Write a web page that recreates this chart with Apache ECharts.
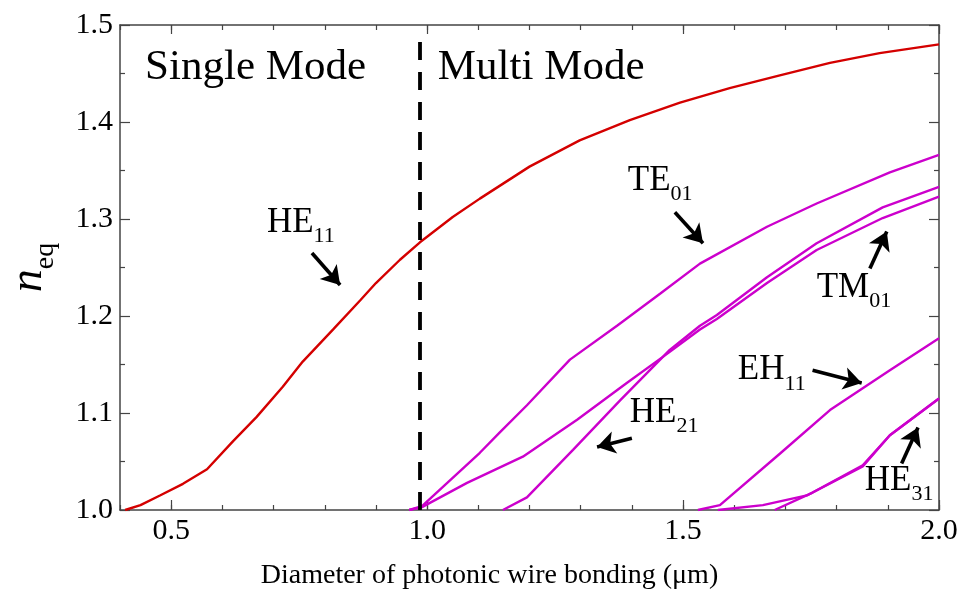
<!DOCTYPE html>
<html><head><meta charset="utf-8">
<script src="https://cdn.jsdelivr.net/npm/echarts@6/dist/echarts.min.js"></script>
<style>html,body{margin:0;padding:0;background:#fff}#c{width:963px;height:599px}</style>
</head><body><div id="c"></div>
<script>
// ---- data ----
const xTickLabels = [0.5, 1.0, 1.5, 2.0];
const yTickLabels = [1.0, 1.1, 1.2, 1.3, 1.4, 1.5];
const he11 = [[0.41,1.0],[0.44,1.005],[0.478,1.015],[0.523,1.027],[0.57,1.042],[0.621,1.071],[0.667,1.096],[0.718,1.127],[0.757,1.153],[0.816,1.186],[0.869,1.216],[0.90,1.234],[0.947,1.258],[0.986,1.276],[1.05,1.302],[1.103,1.321],[1.20,1.354],[1.298,1.381],[1.396,1.402],[1.494,1.420],[1.591,1.435],[1.689,1.448],[1.787,1.461],[1.884,1.471],[2.0,1.480]];
const te01 = [[0.965,1.0],[0.99,1.004],[1.103,1.059],[1.142,1.080],[1.195,1.108],[1.279,1.155],[1.371,1.190],[1.455,1.223],[1.533,1.254],[1.664,1.292],[1.761,1.316],[1.904,1.348],[2.0,1.366]];
const tm01 = [[0.965,1.0],[0.99,1.003],[1.078,1.028],[1.187,1.055],[1.293,1.093],[1.39,1.131],[1.474,1.163],[1.533,1.186],[1.566,1.197],[1.664,1.234],[1.761,1.268],[1.89,1.301],[2.0,1.323]];
const he21 = [[1.148,1.0],[1.195,1.013],[1.285,1.062],[1.377,1.113],[1.474,1.165],[1.533,1.190],[1.566,1.201],[1.664,1.240],[1.761,1.275],[1.89,1.312],[2.0,1.333]];
const eh11 = [[1.529,1.0],[1.572,1.005],[1.689,1.058],[1.787,1.103],[1.904,1.144],[2.0,1.177]];
const he31 = [[1.568,1.0],[1.656,1.005],[1.742,1.015],[1.851,1.045],[1.904,1.077],[2.0,1.115]];
const he31b = [[1.679,1.0],[1.753,1.018],[1.851,1.046],[1.904,1.077],[2.0,1.115]];
const singleModeCut = 0.985;
// annotation labels: main, subscript, left x, caps-centre y
const modeLabels = [['HE','11',0.687,1.294],['TE','01',1.392,1.337],['TM','01',1.761,1.227],['EH','11',1.607,1.142],['HE','21',1.396,1.098],['HE','31',1.855,1.028]];
// arrows: from [x,y] to [x,y]
const modeArrows = [[[0.775,1.265],[0.83,1.232]],[[1.484,1.307],[1.539,1.275]],[[1.865,1.249],[1.898,1.287]],[[1.753,1.144],[1.849,1.131]],[[1.40,1.074],[1.332,1.065]],[[1.927,1.048],[1.959,1.085]]];
const regionTexts = [['Single Mode',0.449,1.458],['Multi Mode',1.021,1.458]];

// ---- chart ----
const FF = "'Liberation Serif', 'DejaVu Serif', serif";
const AX = '#444';
const chart = echarts.init(document.getElementById('c'), null, {renderer:'canvas'});
const gridRect = {left:120, right:24, top:25, bottom:89, containLabel:false, outerBoundsMode:'none'};
const RED = '#d40000', MAG = '#cc00cc';
function lineSeries(name, data, color){
  return {name, type:'line', data, xAxisIndex:0, yAxisIndex:0, showSymbol:false, symbol:'none',
    lineStyle:{color, width:2.4}, itemStyle:{color}, animation:false, silent:true, z:3};
}
const markData = [
  [{coord:[singleModeCut,1.0], symbol:'none', lineStyle:{color:'#000', width:3.8, type:[18,12]}},
   {coord:[singleModeCut,1.485], symbol:'none'}]
];
modeArrows.forEach(a=>{
  markData.push([{coord:a[0], symbol:'none', lineStyle:{color:'#000', width:3.6, type:'solid'}},
                 {coord:a[1], symbol:'arrow', symbolSize:[17,18]}]);
});
const he11Series = lineSeries('HE11', he11, RED);
he11Series.markLine = {silent:true, animation:false, symbol:['none','none'], label:{show:false}, emphasis:{disabled:true}, data:markData};

const option = {
  animation:false,
  backgroundColor:'#fff',
  grid:[Object.assign({}, gridRect), Object.assign({}, gridRect)],
  xAxis:[
    {gridIndex:0, type:'value', min:0.4, max:2.0, interval:0.1, position:'bottom',
     axisLine:{show:true, onZero:false, lineStyle:{color:AX, width:1.5}},
     axisTick:{show:true, inside:true, length:5, lineStyle:{color:AX, width:1.2}},
     axisLabel:{customValues:xTickLabels, formatter:v=>v.toFixed(1), fontFamily:FF, fontSize:30, color:'#000', margin:6},
     splitLine:{show:false},
     name:'Diameter of photonic wire bonding (\u03bcm)', nameLocation:'middle', nameGap:52,
     nameTextStyle:{fontFamily:FF, fontSize:28, color:'#000', padding:[0,80,0,0]}},
    {gridIndex:0, type:'value', min:0.4, max:2.0, interval:0.1, position:'top',
     axisLine:{show:true, onZero:false, lineStyle:{color:AX, width:1.5}},
     axisTick:{show:true, inside:true, length:5, lineStyle:{color:AX, width:1.2}},
     axisLabel:{show:false}, splitLine:{show:false}},
    {gridIndex:1, type:'value', min:0.4, max:2.0, interval:0.1, position:'bottom',
     axisLine:{show:false, onZero:false},
     axisTick:{show:true, inside:true, length:10, customValues:xTickLabels, lineStyle:{color:AX, width:1.2}},
     axisLabel:{show:false}, splitLine:{show:false}},
    {gridIndex:1, type:'value', min:0.4, max:2.0, interval:0.1, position:'top',
     axisLine:{show:false, onZero:false},
     axisTick:{show:true, inside:true, length:9, customValues:xTickLabels, lineStyle:{color:AX, width:1.2}},
     axisLabel:{show:false}, splitLine:{show:false}}
  ],
  yAxis:[
    {gridIndex:0, type:'value', min:1.0, max:1.5, interval:0.1, position:'left',
     axisLine:{show:true, onZero:false, lineStyle:{color:AX, width:1.5}},
     axisTick:{show:true, inside:true, length:10, lineStyle:{color:AX, width:1.2}},
     minorTick:{show:true, splitNumber:2, length:5, lineStyle:{color:AX, width:1.2}},
     axisLabel:{customValues:yTickLabels, formatter:v=>v.toFixed(1), fontFamily:FF, fontSize:30, color:'#000', margin:7},
     splitLine:{show:false}, minorSplitLine:{show:false},
     name:'{n|n}{s|eq}', nameLocation:'middle', nameGap:60, nameRotate:90,
     nameTextStyle:{rich:{
       n:{fontFamily:FF, fontStyle:'italic', fontSize:46, color:'#000', verticalAlign:'bottom', lineHeight:46, padding:[0,0,8,0]},
       s:{fontFamily:FF, fontSize:28, color:'#000', verticalAlign:'bottom', lineHeight:28}}}},
    {gridIndex:0, type:'value', min:1.0, max:1.5, interval:0.1, position:'right',
     axisLine:{show:true, onZero:false, lineStyle:{color:AX, width:1.5}},
     axisTick:{show:true, inside:true, length:10, lineStyle:{color:AX, width:1.2}},
     minorTick:{show:true, splitNumber:2, length:5, lineStyle:{color:AX, width:1.2}},
     axisLabel:{show:false}, splitLine:{show:false}},
    {gridIndex:1, type:'value', min:1.0, max:1.5, show:false}
  ],
  series:[
    he11Series,
    lineSeries('TE01', te01, MAG),
    lineSeries('TM01', tm01, MAG),
    lineSeries('HE21', he21, MAG),
    lineSeries('EH11', eh11, MAG),
    lineSeries('HE31', he31, MAG),
    lineSeries('HE31b', he31b, MAG)
  ]
};
chart.setOption(option);

const toPx = p => chart.convertToPixel({xAxisIndex:0, yAxisIndex:0}, p);
const graphics = [];
modeLabels.forEach(l=>{
  const p = toPx([l[2], l[3]]);
  graphics.push({type:'text', x:p[0], y:p[1]+5, silent:true, z:10,
    style:{text:'{m|'+l[0]+'}{s|'+l[1]+'}', align:'left', verticalAlign:'middle',
      rich:{
        m:{fontFamily:FF, fontSize:35, fill:'#000', verticalAlign:'bottom', lineHeight:35, padding:[0,0,7,0]},
        s:{fontFamily:FF, fontSize:22, fill:'#000', verticalAlign:'bottom', lineHeight:22}
      }}});
});
regionTexts.forEach(t=>{
  const p = toPx([t[1], t[2]]);
  graphics.push({type:'text', x:p[0], y:p[1]+2, silent:true, z:10,
    style:{text:t[0], fontFamily:FF, fontSize:43, fill:'#000', align:'left', verticalAlign:'middle'}});
});
chart.setOption({graphic:graphics});
</script>
</body></html>
